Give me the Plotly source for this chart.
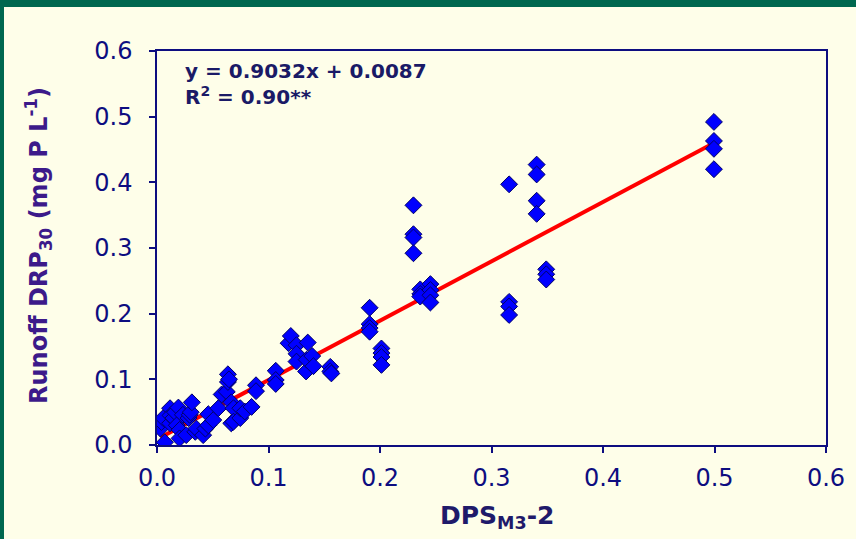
import plotly.graph_objects as go

# Data (DPS_M3-2 vs runoff DRP30)
dps_x = [
    0.003, 0.003, 0.004, 0.0055, 0.007, 0.0117, 0.0117, 0.0121, 0.0146, 0.0161,
    0.0177, 0.0192, 0.0202, 0.0202, 0.0232, 0.0262, 0.0283, 0.0293, 0.0303, 0.0313,
    0.0343, 0.0353, 0.0414, 0.0434, 0.046, 0.046, 0.0505, 0.055, 0.058, 0.0626,
    0.0636, 0.0636, 0.0646, 0.0666, 0.0666, 0.0686, 0.0686, 0.0747, 0.0747, 0.0787,
    0.0848, 0.0888, 0.0888, 0.1065, 0.1065, 0.1065, 0.118, 0.120, 0.1251, 0.1251,
    0.1251, 0.1337, 0.1342, 0.1352, 0.1392, 0.1403, 0.1554, 0.1554, 0.1564, 0.1907,
    0.1907, 0.1907, 0.1907, 0.2013, 0.2013, 0.2013, 0.2013, 0.230, 0.230, 0.230,
    0.230, 0.2361, 0.2361, 0.2361, 0.2452, 0.2452, 0.2452, 0.2452, 0.3158, 0.3158,
    0.3158, 0.3158, 0.3405, 0.3405, 0.3405, 0.3405, 0.3491, 0.3491, 0.3491, 0.4995,
    0.4995, 0.4995, 0.4995,
]
drp_y = [
    0.030, 0.025, 0.035, 0.041, 0.004, 0.056, 0.033, 0.045, 0.041, 0.050,
    0.030, 0.057, 0.023, 0.010, 0.046, 0.015, 0.041, 0.046, 0.050, 0.065,
    0.020, 0.025, 0.015, 0.025, 0.030, 0.047, 0.038, 0.056, 0.077, 0.081,
    0.1077, 0.096, 0.100, 0.065, 0.033, 0.056, 0.0355, 0.041, 0.056, 0.051,
    0.058, 0.091, 0.082, 0.113, 0.099, 0.093, 0.155, 0.166, 0.152, 0.139,
    0.127, 0.112, 0.130, 0.156, 0.1355, 0.120, 0.119, 0.112, 0.109, 0.209,
    0.184, 0.178, 0.1725, 0.147, 0.140, 0.134, 0.122, 0.365, 0.321, 0.316,
    0.292, 0.237, 0.230, 0.226, 0.245, 0.236, 0.228, 0.217, 0.397, 0.218,
    0.211, 0.198, 0.427, 0.412, 0.372, 0.352, 0.2675, 0.260, 0.252, 0.492,
    0.463, 0.451, 0.420,
]

slope = 0.9032
intercept = 0.0087
fit_x = [min(dps_x), max(dps_x)]
fit_y = [slope * v + intercept for v in fit_x]

x_ticks = [0.0, 0.1, 0.2, 0.3, 0.4, 0.5, 0.6]
y_ticks = [0.0, 0.1, 0.2, 0.3, 0.4, 0.5, 0.6]
tick_text = ["0.0", "0.1", "0.2", "0.3", "0.4", "0.5", "0.6"]

W, H = 856, 539
L, R, T, B = 157, 30, 51, 94
pw, ph = W - L - R, H - T - B


def px(p):
    return (p - L) / pw


def py(p):
    return (H - B - p) / ph


NAVY = "#0d0d80"
CREAM = "#fefee9"
GREEN = "#00684f"

fig = go.Figure()
fig.add_trace(go.Scatter(
    x=fit_x, y=fit_y, mode="lines",
    line=dict(color="#ff0000", width=4), showlegend=False, hoverinfo="skip",
))
fig.add_trace(go.Scatter(
    x=dps_x, y=drp_y, mode="markers",
    marker=dict(symbol="diamond", size=13, color="#0000ff",
                line=dict(color="#000066", width=1)),
    showlegend=False,
))

axis_common = dict(
    showline=True, linecolor=NAVY, linewidth=1.5, mirror=True,
    ticks="outside", ticklen=6, tickcolor=NAVY, tickwidth=1.5,
    showgrid=False, zeroline=False,
    tickfont=dict(family="DejaVu Sans", size=24, color=NAVY),
)

fig.update_layout(
    width=W, height=H, autosize=False,
    margin=dict(l=L, r=R, t=T, b=B, pad=0),
    paper_bgcolor=CREAM, plot_bgcolor=CREAM,
    xaxis=dict(range=[0, 0.6], tickvals=x_ticks, ticktext=tick_text,
               ticklabelstandoff=4, **axis_common),
    yaxis=dict(range=[0, 0.6], tickvals=y_ticks, ticktext=tick_text,
               ticklabelstandoff=12, **axis_common),
    shapes=[
        dict(type="rect", xref="paper", yref="paper",
             x0=px(0), x1=px(4), y0=py(H), y1=py(0),
             fillcolor=GREEN, line=dict(width=0), layer="above"),
        dict(type="rect", xref="paper", yref="paper",
             x0=px(0), x1=px(W), y0=py(7), y1=py(0),
             fillcolor=GREEN, line=dict(width=0), layer="above"),
    ],
    annotations=[
        dict(text="<b>y = 0.9032x + 0.0087<br>R<sup>2</sup> = 0.90**</b>",
             xref="paper", yref="paper", x=px(183), y=py(57),
             xanchor="left", yanchor="top", align="left", showarrow=False,
             font=dict(family="DejaVu Sans", size=20, color="#1a1a66")),
        dict(text="<b>Runoff DRP<sub>30</sub> (mg P L<sup>-1</sup>)</b>",
             xref="paper", yref="paper", x=px(38), y=py(246),
             xanchor="center", yanchor="middle", textangle=-90, showarrow=False,
             font=dict(family="DejaVu Sans", size=24, color="#3c1a8a")),
        dict(text="<b>DPS<sub>M3</sub>-2</b>",
             xref="paper", yref="paper", x=px(497), y=py(517),
             xanchor="center", yanchor="middle", showarrow=False,
             font=dict(family="DejaVu Sans", size=25, color="#1f1a6a")),
    ],
)

fig.write_html("out.html",
               config={"displayModeBar": False},
               post_script="document.body.style.margin='0';"
                           "document.body.style.overflow='hidden';")
